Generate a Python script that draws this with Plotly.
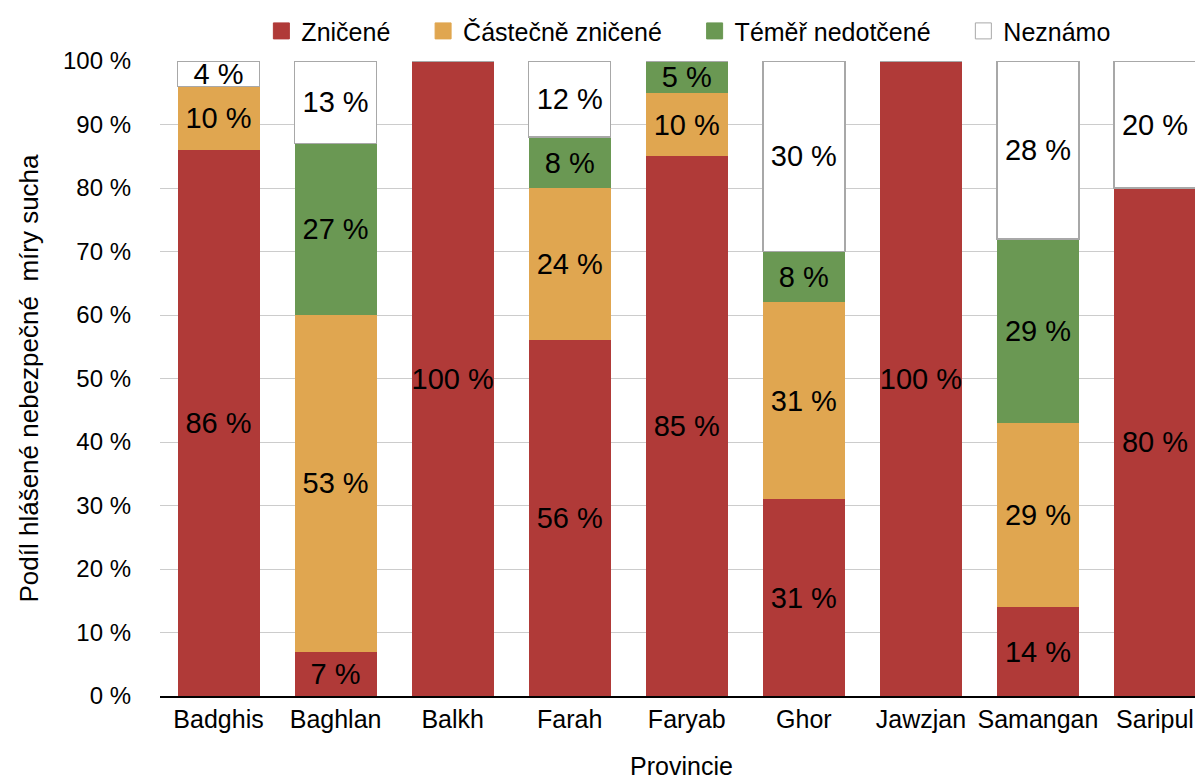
import plotly.graph_objects as go

provinces = ["Badghis", "Baghlan", "Balkh", "Farah", "Faryab", "Ghor", "Jawzjan", "Samangan", "Saripul"]
znicene = [86, 7, 100, 56, 85, 31, 100, 14, 80]
castecne = [10, 53, 0, 24, 10, 31, 0, 29, 0]
temer = [0, 27, 0, 8, 5, 8, 0, 29, 0]
neznamo = [4, 13, 0, 12, 0, 30, 0, 28, 20]
y_ticks = list(range(0, 101, 10))
y_labels = [f"{v} %" for v in y_ticks]

series = [
    ("Zničené", znicene, "#b03a38", "#b03a38", 0),
    ("Částečně zničené", castecne, "#e0a650", "#e0a650", 0),
    ("Téměř nedotčené", temer, "#6a9853", "#6a9853", 0),
    ("Neznámo", neznamo, "#ffffff", "#a8a8a8", 1.5),
]

fig = go.Figure()
for name, vals, color, line_color, lw in series:
    fig.add_trace(go.Bar(
        name=name,
        x=provinces,
        y=vals,
        marker=dict(color=color, line=dict(color=line_color, width=lw)),
        text=[f"{v} %" if v else "" for v in vals],
        textposition="inside",
        insidetextanchor="middle",
        textangle=0,
        textfont=dict(color="black", size=29),
        hoverinfo="skip",
        showlegend=False,
    ))
    # legend entry with a larger square swatch
    fig.add_trace(go.Scatter(
        name=name + "    ",
        x=[None],
        y=[None],
        mode="markers",
        marker=dict(symbol="square", size=22, color=color,
                    line=dict(color=line_color if lw else color, width=1)),
        hoverinfo="skip",
    ))

fig.update_layout(
    barmode="stack",
    bargap=0.3,
    width=1195,
    height=772,
    margin=dict(l=152, r=0, t=53, b=84),
    plot_bgcolor="white",
    paper_bgcolor="white",
    font=dict(family="Liberation Sans, Arial, sans-serif", size=24, color="black"),
    uniformtext=dict(minsize=29, mode="show"),
    legend=dict(
        orientation="h",
        x=0.52, xanchor="center",
        y=1.047, yanchor="middle",
        font=dict(size=25),
        traceorder="normal",
        itemwidth=30,
        tracegroupgap=0,
    ),
    xaxis=dict(
        range=[-0.5, 8.41],
        title=dict(text="Provincie", standoff=26, font=dict(size=25)),
        showline=True,
        linecolor="black",
        linewidth=2,
        ticks="",
        tickfont=dict(size=25),
    ),
    yaxis=dict(
        range=[0, 100],
        tickmode="array",
        tickvals=y_ticks,
        ticktext=y_labels,
        ticklabelstandoff=28,
        showgrid=True,
        gridcolor="#cccccc",
        zeroline=False,
        title=dict(text="Podíl hlášené nebezpečné  míry sucha", standoff=16, font=dict(size=26)),
        tickfont=dict(size=24),
    ),
)

fig.write_html("out.html")
